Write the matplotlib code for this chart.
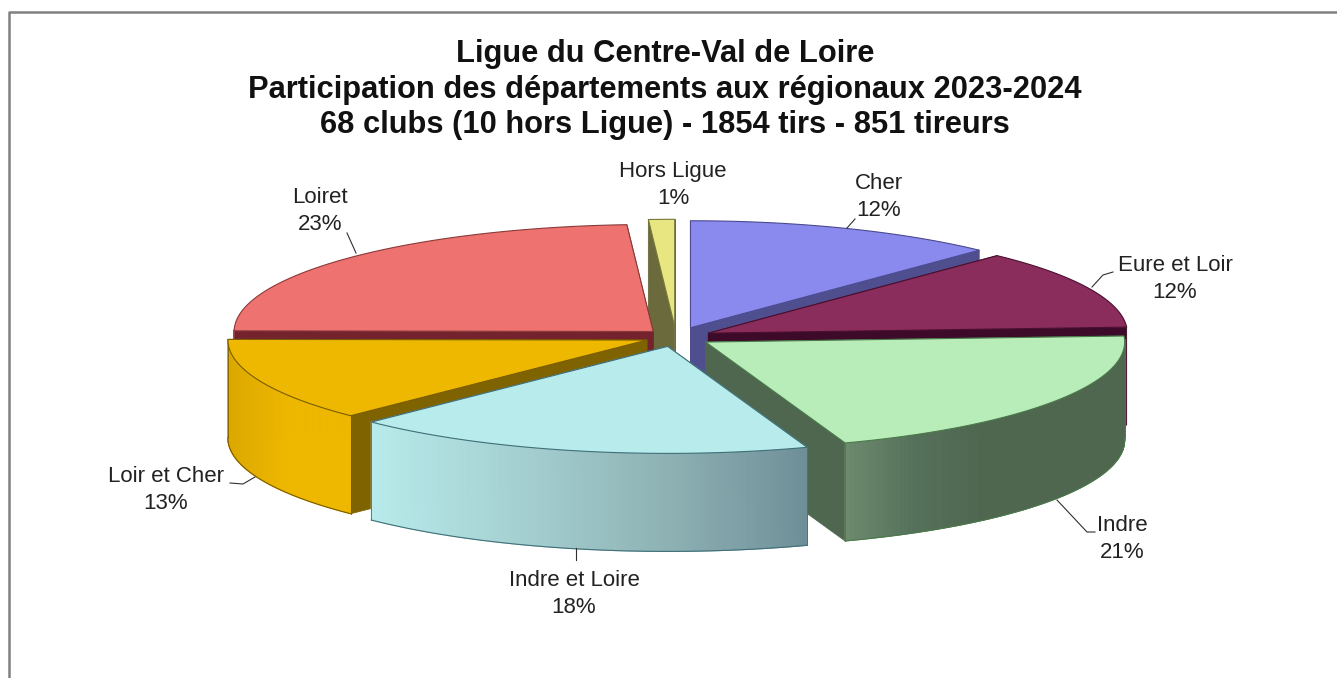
import numpy as np
import matplotlib
matplotlib.use('Agg')
import matplotlib.pyplot as plt
from matplotlib.colors import LinearSegmentedColormap, to_rgb
from matplotlib.patches import Polygon

plt.rcParams['font.family'] = ['Liberation Sans', 'DejaVu Sans']

# Data
title = ['Ligue du Centre-Val de Loire',
         'Participation des départements aux régionaux 2023-2024',
         '68 clubs (10 hors Ligue) - 1854 tirs - 851 tireurs']
departements = ['Cher', 'Eure et Loir', 'Indre', 'Indre et Loire', 'Loir et Cher', 'Loiret', 'Hors Ligue']
labels_pct = ['12%', '12%', '21%', '18%', '13%', '23%', '1%']
# slice sizes as measured on the picture (labels are the printed ones)
parts = [12.1, 12.0, 20.5, 17.9, 12.6, 23.9, 1.0]

# Colours
top_colors = ['#8a8aee', '#8a2c5c', '#b8ecb8', '#b8ebeb', '#eeb800', '#ee7270', '#e8e680']
cut_colors = ['#4f4f90', '#3e0a2a', '#4f664f', '#6f8f98', '#7f6300', '#74222e', '#6a6a3c']
edge_colors = ['#4a4a90', '#4a1030', '#4a7a4a', '#3f6f78', '#7a5c00', '#8a3a3a', '#77773a']
rim_stops = [['#4f4f90', '#4f4f90'],
             ['#2a0820', '#2a0820'],
             ['#6d8a6d', '#55705a', '#4f664f', '#4f664f', '#4f664f'],
             ['#b8ebeb', '#a5d0d2', '#8fb3b5', '#6f8f98'],
             ['#dca800', '#eeb800', '#eeb800'],
             ['#74222e', '#74222e'],
             ['#6a6a3c', '#6a6a3c']]

# Label positions (pixels)
label_pos = [(879, 197), (1175, 279), (1122, 539), (574, 594), (166, 490), (320, 211), (673, 185)]
leaders = [[(855, 219), (847, 228)],
           [(1113, 272), (1103, 275), (1092, 287)],
           [(1057, 500), (1087, 532), (1095, 532)],
           [(576, 548), (576, 560)],
           [(230, 483), (243, 484), (255, 477)],
           [(347, 233), (356, 253)],
           []]

# Pie geometry
CX, CY = 676, 337
RX, RY = 419, 107
explode = [0.093, 0.085, 0.085, 0.09, 0.075, 0.075, 0.1]
draw_order = [6, 0, 5, 1, 4, 2, 3]
depths = [98, 98, 98, 98, 98, 98, 128]

fig = plt.figure(figsize=(13.37, 6.78), dpi=100)
ax = fig.add_axes([0, 0, 1, 1])
ax.set_xlim(0, 1337)
ax.set_ylim(678, 0)
ax.axis('off')

# cadre
ax.plot([9, 9, 1337], [678, 12, 12], color='#808080', lw=1.8)

angles = np.radians(np.concatenate([[0], np.cumsum(parts)]) * 360.0 / sum(parts))

for z, i in enumerate(draw_order):
    z = z + 3
    a0, a1 = angles[i], angles[i + 1]
    mid = (a0 + a1) / 2
    tx = CX + explode[i] * RX * np.sin(mid)
    ty = CY - explode[i] * RY * np.cos(mid)
    depth = depths[i]

    th = np.linspace(a0, a1, 120)
    xs = tx + RX * np.sin(th)
    ys = ty - RY * np.cos(th)

    # cut faces
    for j in [0, -1]:
        face = [(tx, ty), (xs[j], ys[j]), (xs[j], ys[j] + depth), (tx, ty + depth)]
        ax.add_patch(Polygon(face, closed=True, fc=cut_colors[i], ec=cut_colors[i], lw=0.6, zorder=z))

    # outer rim with gradient, only the front part is seen
    front = np.cos(th) <= 0.03
    if front.sum() > 1:
        xf, yf = xs[front], ys[front]
        cmap = LinearSegmentedColormap.from_list('rim', [to_rgb(c) for c in rim_stops[i]])
        lo, hi = xf.min(), xf.max()
        for k in range(len(xf) - 1):
            t = ((xf[k] + xf[k + 1]) / 2 - lo) / max(hi - lo, 1)
            quad = [(xf[k], yf[k]), (xf[k + 1], yf[k + 1]),
                    (xf[k + 1], yf[k + 1] + depth), (xf[k], yf[k] + depth)]
            col = cmap(t)
            ax.add_patch(Polygon(quad, closed=True, fc=col, ec=col, lw=0.8, zorder=z))
        ax.plot(xf, yf + depth, color=edge_colors[i], lw=0.8, zorder=z)
        ax.plot([xf[0], xf[0]], [yf[0], yf[0] + depth], color=edge_colors[i], lw=0.6, zorder=z)
        ax.plot([xf[-1], xf[-1]], [yf[-1], yf[-1] + depth], color=edge_colors[i], lw=0.6, zorder=z)

    # top
    pts = np.column_stack([np.r_[tx, xs], np.r_[ty, ys]])
    ax.add_patch(Polygon(pts, closed=True, fc=top_colors[i], ec=edge_colors[i], lw=0.8,
                         joinstyle='round', zorder=z))

# Labels
for i, name in enumerate(departements):
    ax.text(label_pos[i][0], label_pos[i][1], f'{name}\n{labels_pct[i]}', ha='center', va='center',
            fontsize=16, color='#222222', linespacing=1.33, zorder=20)
    if leaders[i]:
        ax.plot(*zip(*leaders[i]), color='#303030', lw=0.8, zorder=20)

for y, line in zip([54, 90, 125], title):
    ax.text(665, y, line, ha='center', va='center', fontsize=22.2, fontweight='bold', color='#111111')

fig.savefig('out.png', dpi=100)
